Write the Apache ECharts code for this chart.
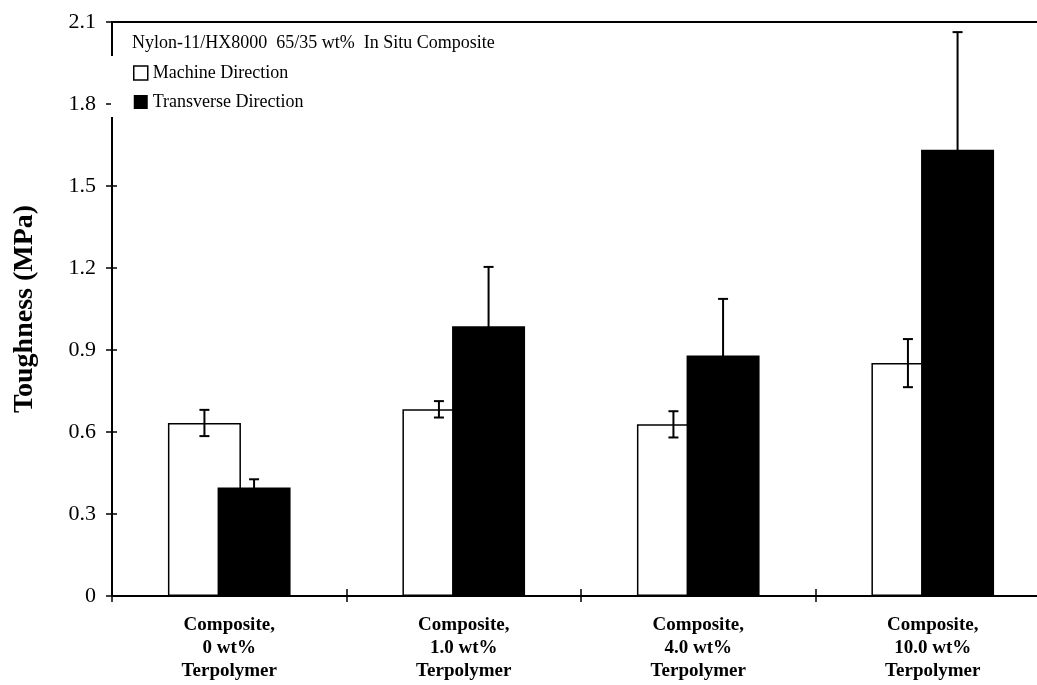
<!DOCTYPE html>
<html>
<head>
<meta charset="utf-8">
<script src="https://cdn.jsdelivr.net/npm/echarts@6/dist/echarts.min.js"></script>
<style>html,body{margin:0;padding:0;background:#fff}#c{width:1037px;height:685px}</style>
</head>
<body>
<div id="c"></div>
<script>
var categories = ['Composite,\n0 wt%\nTerpolymer', 'Composite,\n1.0 wt%\nTerpolymer', 'Composite,\n4.0 wt%\nTerpolymer', 'Composite,\n10.0 wt%\nTerpolymer'];
var machine = [0.633, 0.683, 0.628, 0.852];
var machineErr = [0.048, 0.030, 0.048, 0.088];
var transverse = [0.397, 0.987, 0.880, 1.633];
var transverseErr = [0.030, 0.217, 0.207, 0.430];
var yTickLabels = ['0', '0.3', '0.6', '0.9', '1.2', '1.5', '1.8', '2.1'];
var seriesNames = ['Machine Direction', 'Transverse Direction'];
var titleText = 'Nylon-11/HX8000  65/35 wt%  In Situ Composite';
var yName = 'Toughness (MPa)';

var FONT = 'Liberation Serif, Times New Roman, serif';
var BAR_WIDTH = 73;
var BAR_GAP = -0.32;
var CAP = 5;

function errData(vals, errs) {
  return vals.map(function (v, i) { return [i, v, errs[i]]; });
}
function errRender(side) {
  return function (params, api) {
    var x = api.value(0), v = api.value(1), e = api.value(2);
    var top = api.coord([x, v + e]);
    var bot = api.coord([x, v - e]);
    var cx = top[0] + side * BAR_WIDTH * (1 + BAR_GAP) / 2;
    var st = { stroke: '#000', lineWidth: 2 };
    return {
      type: 'group',
      children: [
        { type: 'line', shape: { x1: cx, y1: top[1], x2: cx, y2: bot[1] }, style: st },
        { type: 'line', shape: { x1: cx - CAP, y1: top[1], x2: cx + CAP, y2: top[1] }, style: st },
        { type: 'line', shape: { x1: cx - CAP, y1: bot[1], x2: cx + CAP, y2: bot[1] }, style: st }
      ]
    };
  };
}

var chart = echarts.init(document.getElementById('c'), null, { renderer: 'canvas' });
chart.setOption({
  backgroundColor: '#fff',
  animation: false,
  textStyle: { fontFamily: FONT, color: '#000' },
  title: {
    text: titleText,
    left: 132, top: 34, padding: 0,
    textStyle: { fontFamily: FONT, fontSize: 18, fontWeight: 'normal', color: '#000' }
  },
  legend: {
    orient: 'vertical',
    left: 111, top: 56,
    padding: [8, 20, 6, 22],
    backgroundColor: '#fff',
    itemWidth: 14, itemHeight: 14, itemGap: 11,
    textStyle: { fontFamily: FONT, fontSize: 18, color: '#000' },
    data: [
      { name: seriesNames[0], icon: 'rect', itemStyle: { color: '#fff', borderColor: '#000', borderWidth: 1.5 } },
      { name: seriesNames[1], icon: 'rect', itemStyle: { color: '#000', borderWidth: 0 } }
    ]
  },
  grid: { left: 112, right: -13, top: 22, bottom: 89, outerBoundsMode: 'none', containLabel: false },
  xAxis: [
    {
      type: 'category', data: categories, position: 'bottom',
      axisLine: { lineStyle: { color: '#000', width: 2 } },
      axisTick: { show: true, length: 6, lineStyle: { color: '#000', width: 1.5 } },
      axisLabel: { fontFamily: FONT, fontSize: 19, fontWeight: 'bold', color: '#000', lineHeight: 23, margin: 18 }
    },
    {
      type: 'category', data: categories, position: 'bottom', offset: 0,
      axisLine: { show: false },
      axisTick: { show: true, inside: true, length: 7, lineStyle: { color: '#000', width: 1.5 } },
      axisLabel: { show: false }
    },
    {
      type: 'category', data: categories, position: 'top',
      axisLine: { show: true, lineStyle: { color: '#000', width: 2 } },
      axisTick: { show: false }, axisLabel: { show: false }
    }
  ],
  yAxis: [
    {
      type: 'value', min: 0, max: 2.1, interval: 0.3,
      name: yName, nameLocation: 'middle', nameGap: 73,
      nameTextStyle: { fontFamily: FONT, fontSize: 28, fontWeight: 'bold', color: '#000' },
      axisLine: { show: true, lineStyle: { color: '#000', width: 2 } },
      axisTick: { show: true, length: 6, lineStyle: { color: '#000', width: 1.5 } },
      splitLine: { show: false },
      axisLabel: {
        fontFamily: FONT, fontSize: 22, color: '#000', margin: 16,
        formatter: function (v) { return yTickLabels[Math.round(v / 0.3)]; }
      }
    },
    {
      type: 'value', min: 0, max: 2.1, interval: 0.3, position: 'left', offset: 0,
      axisLine: { show: false },
      axisTick: { show: true, inside: true, length: 5, lineStyle: { color: '#000', width: 1.5 } },
      splitLine: { show: false }, axisLabel: { show: false }
    }
  ],
  series: [
    {
      name: seriesNames[0], type: 'bar', data: machine,
      barWidth: BAR_WIDTH, barGap: (BAR_GAP * 100) + '%',
      itemStyle: { color: '#fff', borderColor: '#000', borderWidth: 1.5 }
    },
    {
      name: seriesNames[1], type: 'bar', data: transverse,
      barWidth: BAR_WIDTH, barGap: (BAR_GAP * 100) + '%',
      itemStyle: { color: '#000', borderColor: '#000', borderWidth: 0 }
    },
    {
      type: 'custom', name: 'errMachine', data: errData(machine, machineErr),
      encode: { x: 0, y: 1 }, renderItem: errRender(-1), z: 5, silent: true
    },
    {
      type: 'custom', name: 'errTransverse', data: errData(transverse, transverseErr),
      encode: { x: 0, y: 1 }, renderItem: errRender(1), z: 5, silent: true
    }
  ]
});
</script>
</body>
</html>
